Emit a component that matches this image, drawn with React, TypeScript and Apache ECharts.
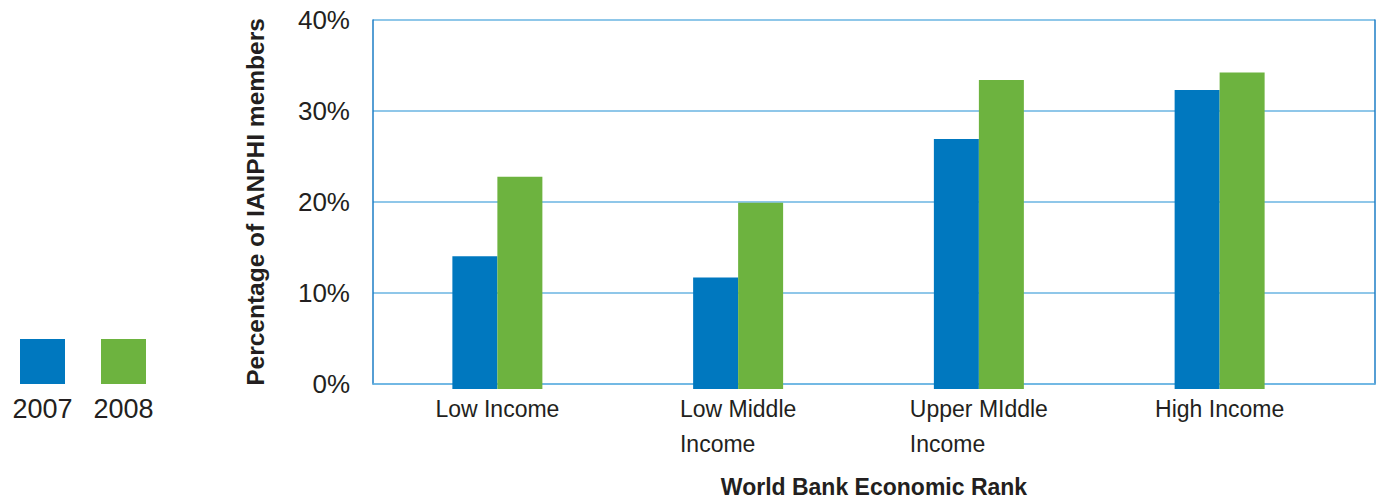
import React, { useEffect, useRef } from "react";
import * as echarts from "echarts";

const categories = ["Low Income", "Low Middle\nIncome", "Upper MIddle\nIncome", "High Income"];
const seriesNames = ["2007", "2008"];
const values2007 = [14.4, 12.1, 27.1, 32.4];
const values2008 = [23.0, 20.2, 33.5, 34.3];
const yTicks = [0, 10, 20, 30, 40];
const yAxisTitle = "Percentage of IANPHI members";
const xAxisTitle = "World Bank Economic Rank";

const COLORS = ["#0078BF", "#6DB33F"];
const FONT = "'Liberation Sans', Arial, sans-serif";
const TEXT = "#231F20";
const GRID_LINE = "#6AB4E2";
const AXIS_LINE = "#1E7EC6";

export default function App() {
  const ref = useRef<HTMLDivElement>(null);
  useEffect(() => {
    document.body.style.margin = "0";
    if (!ref.current) return;
    const chart = echarts.init(ref.current, null, { renderer: "svg" });
    const yMin = yTicks[0];
    const yMax = yTicks[yTicks.length - 1];
    const interval = yTicks[1] - yTicks[0];
    const legendGraphics: any[] = [];
    seriesNames.forEach((name, i) => {
      const x = 20 + i * 81;
      legendGraphics.push({
        type: "rect",
        shape: { x, y: 339, width: 45, height: 45 },
        style: { fill: COLORS[i] },
      });
      legendGraphics.push({
        type: "text",
        x: x + 22.5,
        y: 409,
        style: {
          text: name,
          fill: TEXT,
          font: `27px ${FONT}`,
          align: "center",
          verticalAlign: "middle",
        },
      });
    });
    const option: any = {
      animation: false,
      textStyle: { fontFamily: FONT, color: TEXT },
      grid: [
        { left: 373, top: 20, right: 5, bottom: 114, containLabel: false },
        { left: 377, top: 20, width: 963, bottom: 114, containLabel: false },
      ],
      xAxis: [
        {
          gridIndex: 0,
          type: "category",
          data: categories,
          axisLine: { show: true, lineStyle: { color: GRID_LINE, width: 1.5 } },
          axisTick: { show: false },
          axisLabel: { show: false },
          name: xAxisTitle,
          nameLocation: "middle",
          nameGap: 91,
          nameTextStyle: { fontFamily: FONT, fontSize: 23, fontWeight: "bold", color: TEXT },
        },
        {
          gridIndex: 1,
          type: "category",
          data: categories,
          axisLine: { show: false },
          axisTick: { show: false },
          axisLabel: {
            margin: 2,
            interval: 0,
            formatter: (v: string) =>
              v
                .split("\n")
                .map((l) => `{l|${l}}`)
                .join("\n"),
            rich: {
              l: {
                align: "left",
                fontFamily: FONT,
                fontSize: 23,
                lineHeight: 35,
                color: TEXT,
              },
            },
          },
        },
      ],
      yAxis: [
        {
          gridIndex: 0,
          type: "value",
          min: yMin,
          max: yMax,
          interval,
          axisLine: { show: true, lineStyle: { color: AXIS_LINE, width: 1.5 } },
          axisTick: { show: false },
          axisLabel: {
            formatter: "{value}%",
            margin: 23,
            fontFamily: FONT,
            fontSize: 26,
            color: TEXT,
          },
          splitLine: { show: true, lineStyle: { color: GRID_LINE, width: 1.5 } },
          name: yAxisTitle,
          nameLocation: "middle",
          nameRotate: 90,
          nameGap: 105,
          nameTextStyle: { fontFamily: FONT, fontSize: 24.5, fontWeight: "bold", color: TEXT },
        },
        {
          gridIndex: 0,
          type: "value",
          position: "right",
          min: yMin,
          max: yMax,
          interval,
          axisLine: { show: true, lineStyle: { color: AXIS_LINE, width: 1.5 } },
          axisTick: { show: false },
          axisLabel: { show: false },
          splitLine: { show: false },
        },
        {
          gridIndex: 1,
          type: "value",
          min: yMin,
          max: yMax,
          interval,
          show: false,
        },
      ],
      series: [
        {
          name: seriesNames[0],
          type: "bar",
          xAxisIndex: 1,
          yAxisIndex: 2,
          data: values2007,
          barWidth: 45,
          barGap: "0%",
          itemStyle: { color: COLORS[0] },
        },
        {
          name: seriesNames[1],
          type: "bar",
          xAxisIndex: 1,
          yAxisIndex: 2,
          data: values2008,
          barWidth: 45,
          barGap: "0%",
          itemStyle: { color: COLORS[1] },
        },
      ],
      graphic: legendGraphics,
    };
    chart.setOption(option);
    return () => chart.dispose();
  }, []);
  return <div ref={ref} style={{ width: 1380, height: 503 }} />;
}
